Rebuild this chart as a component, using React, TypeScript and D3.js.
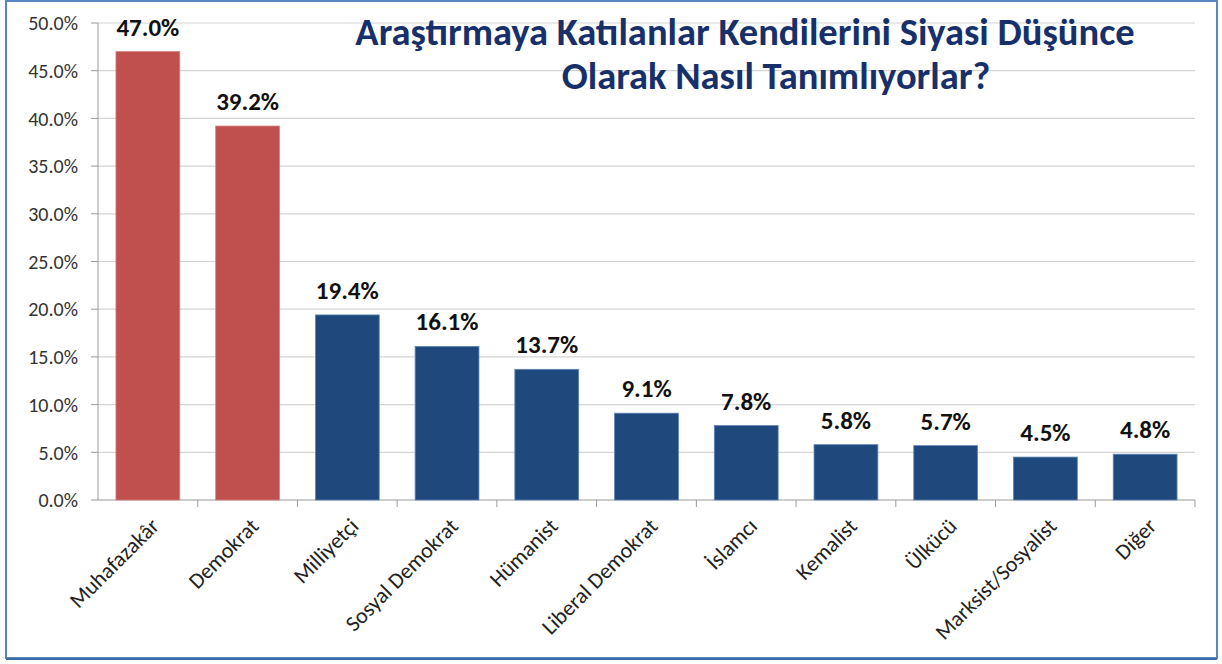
// @ts-nocheck

import { scaleBand, scaleLinear } from "d3";

const categories = [
  "Muhafazakâr",
  "Demokrat",
  "Milliyetçi",
  "Sosyal Demokrat",
  "Hümanist",
  "Liberal Demokrat",
  "İslamcı",
  "Kemalist",
  "Ülkücü",
  "Marksist/Sosyalist",
  "Diğer",
];
const values = [47.0, 39.2, 19.4, 16.1, 13.7, 9.1, 7.8, 5.8, 5.7, 4.5, 4.8];
const highlighted = ["Muhafazakâr", "Demokrat"];
const yTicks = [0, 5, 10, 15, 20, 25, 30, 35, 40, 45, 50];
const titleLines = [
  "Araştırmaya Katılanlar Kendilerini Siyasi Düşünce",
  "Olarak Nasıl Tanımlıyorlar?",
];

const App = () => {
  const width = 1222;
  const height = 664;
  const margin = { top: 23, right: 27, bottom: 164, left: 98 };
  const innerWidth = width - margin.left - margin.right;
  const innerHeight = height - margin.top - margin.bottom;
  const font = "Carlito, Lato, 'Open Sans', sans-serif";

  const xScale = scaleBand()
    .domain(categories)
    .range([0, innerWidth])
    .paddingInner(0.36)
    .paddingOuter(0.18);

  const yScale = scaleLinear().domain([0, 50]).range([innerHeight, 0]);

  const step = innerWidth / categories.length;

  return (
    <svg
      width={width}
      height={height}
      style={{ position: "absolute", left: 0, top: 0, background: "#fff" }}
    >
      {/* frame */}
      <rect x={6} y={1} width={1211} height={657} fill="none" stroke="#5a86c0" strokeWidth={2} />
      <line x1={6} x2={1217} y1={659} y2={659} stroke="#3c6aa8" strokeWidth={2} />

      <g transform={`translate(${margin.left}, ${margin.top})`}>
        {yTicks.map((t) => (
          <g key={t} transform={`translate(0, ${yScale(t)})`}>
            {t > 0 && <line x2={innerWidth} stroke="#d4d4d4" strokeWidth={1.2} />}
            <line x1={-7} x2={0} stroke="#9a9a9a" />
            <text
              x={-20}
              dy=".36em"
              style={{ textAnchor: "end" }}
              fontFamily={font}
              fontSize={20}
              fill="#333"
            >
              {t.toFixed(1) + "%"}
            </text>
          </g>
        ))}
        <line y1={0} y2={innerHeight} stroke="#9a9a9a" />
        <line x1={0} x2={innerWidth} y1={innerHeight} y2={innerHeight} stroke="#9a9a9a" />
        {categories.map((c, i) => (
          <line
            key={"t" + c}
            x1={step * (i + 1)}
            x2={step * (i + 1)}
            y1={innerHeight}
            y2={innerHeight + 7}
            stroke="#9a9a9a"
          />
        ))}

        {categories.map((c, i) => (
          <rect
            key={c}
            x={xScale(c)}
            y={yScale(values[i])}
            width={xScale.bandwidth()}
            height={innerHeight - yScale(values[i])}
            fill={highlighted.includes(c) ? "#c0504d" : "#1f497d"}
            stroke={highlighted.includes(c) ? "#d6807e" : "#5f86b8"}
            strokeWidth={0.8}
          />
        ))}

        {categories.map((c, i) => (
          <text
            key={"v" + c}
            x={xScale(c) + xScale.bandwidth() / 2}
            y={yScale(values[i]) - 16}
            style={{ textAnchor: "middle" }}
            fontFamily={font}
            fontWeight="bold"
            fontSize={25}
            fill="#111"
          >
            {values[i].toFixed(1) + "%"}
          </text>
        ))}

        {categories.map((c) => {
          const cx = xScale(c) + xScale.bandwidth() / 2 + 7;
          const cy = innerHeight + 22;
          return (
            <text
              key={"l" + c}
              transform={`translate(${cx}, ${cy}) rotate(-45)`}
              dy=".35em"
              style={{ textAnchor: "end" }}
              fontFamily={font}
              fontSize={22}
              fill="#222"
            >
              {c}
            </text>
          );
        })}
      </g>

      {titleLines.map((line, i) => (
        <text
          key={line}
          x={i === 0 ? 745 : 776}
          y={45 + i * 44}
          style={{ textAnchor: "middle" }}
          fontFamily={font}
          fontWeight="bold"
          fontSize={38.5}
          fill="#17306b"
        >
          {line}
        </text>
      ))}
    </svg>
  );
};

export default App;
